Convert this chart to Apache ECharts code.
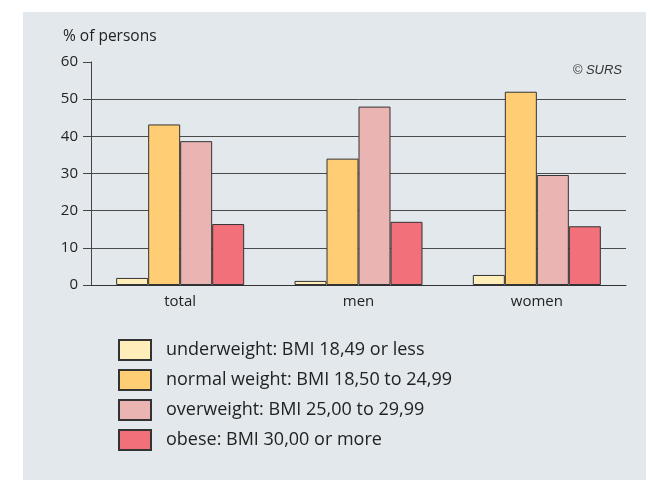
<!DOCTYPE html>
<html>
<head>
<meta charset="utf-8">
<script src="https://cdn.jsdelivr.net/npm/echarts@6/dist/echarts.min.js"></script>
<style>
    html, body { margin: 0; padding: 0; background: #fff; }
    #main { width: 646px; height: 480px; }
</style>
</head>
<body>
<div id="main"></div>
<script>
// data
var categories = ["total", "men", "women"];
var seriesNames = [
    "underweight: BMI 18,49 or less",
    "normal weight: BMI 18,50 to 24,99",
    "overweight: BMI 25,00 to 29,99",
    "obese: BMI 30,00 or more"
];
var underweight = [1.9, 1.1, 2.7];
var normalWeight = [43.2, 34.0, 52.0];
var overweight = [38.7, 48.0, 29.6];
var obese = [16.4, 17.0, 15.8];
var yTicks = [0, 10, 20, 30, 40, 50, 60];

var barColors = ["#FFEDBA", "#FFCE74", "#EAB4B3", "#F1707A"];
var gridColor = "#4a4a4a";

function barChart(el) {
    var myChart = echarts.init(el);

    // top split line (60) is not drawn in the original
    var splitColors = yTicks.map(function (v, i) {
        return i === yTicks.length - 1 ? "rgba(0,0,0,0)" : gridColor;
    });

    var values = [underweight, normalWeight, overweight, obese];

    var option = {
        animation: false,
        color: barColors,
        textStyle: {
            fontFamily: "Open Sans"
        },

        // grey panel + texts
        graphic: [
            {
                type: "rect",
                z: -10,
                shape: { x: 23, y: 12, width: 623, height: 468 },
                style: { fill: "#E3E8EC" }
            },
            {
                type: "text",
                left: 63,
                top: 29,
                style: {
                    text: "% of persons",
                    fontSize: 15.5,
                    fontFamily: "Open Sans",
                    fill: "#222"
                }
            },
            {
                type: "text",
                right: 24,
                top: 64,
                style: {
                    text: "© SURS",
                    fontSize: 13,
                    fontStyle: "italic",
                    fontFamily: "Liberation Sans",
                    fill: "#333"
                }
            }
        ],

        legend: {
            orient: "vertical",
            left: 118,
            top: 339,
            padding: 0,
            icon: "rect",
            itemWidth: 32,
            itemHeight: 20,
            itemGap: 8,
            data: seriesNames,
            textStyle: {
                fontSize: 18,
                color: "#222",
                padding: [0, 0, 0, 10]
            }
        },

        grid: {
            left: 91,
            right: 20,
            top: 62,
            bottom: 195,
            containLabel: false
        },

        xAxis: {
            type: "category",
            data: categories,
            axisTick: { show: false },
            axisLine: {
                lineStyle: { color: "#333", width: 1 }
            },
            axisLabel: {
                color: "#222",
                fontSize: 15,
                margin: 9
            }
        },

        yAxis: {
            type: "value",
            min: 0,
            max: 60,
            interval: 10,
            axisLine: {
                show: true,
                lineStyle: { color: "#444" }
            },
            axisTick: {
                show: true,
                length: 8,
                lineStyle: { color: "#444" }
            },
            axisLabel: {
                color: "#222",
                fontSize: 15,
                margin: 13
            },
            splitLine: {
                lineStyle: {
                    color: splitColors,
                    width: 1
                }
            }
        },

        series: seriesNames.map(function (name, i) {
            return {
                name: name,
                type: "bar",
                barWidth: 32,
                barGap: "0%",
                itemStyle: {
                    borderColor: "#333",
                    borderWidth: 1
                },
                data: values[i]
            };
        })
    };

    myChart.setOption(option);
}

barChart(document.getElementById("main"));
</script>
</body>
</html>
